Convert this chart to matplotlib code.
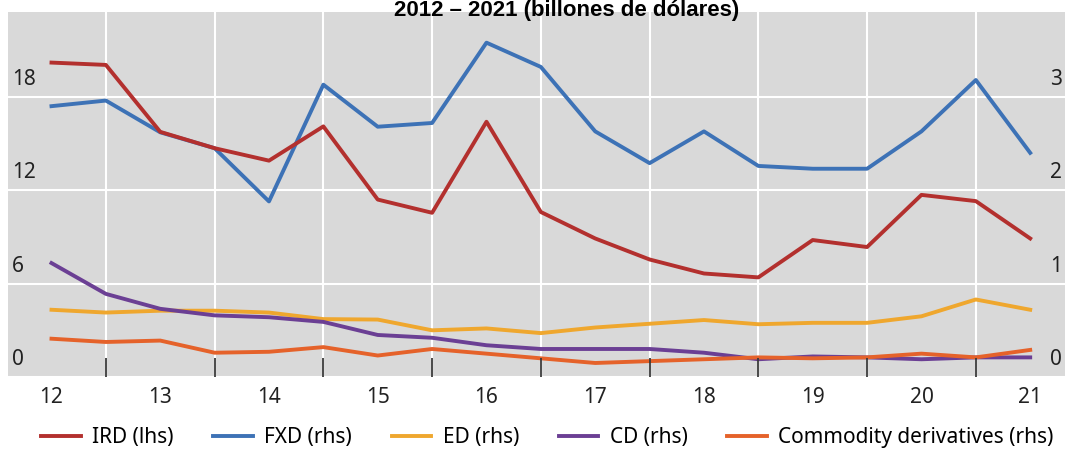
import matplotlib.pyplot as plt
from matplotlib.lines import Line2D

# half-year periods (2012 .. 2021)
periods = [12, 12.5, 13, 13.5, 14, 14.5, 15, 15.5, 16, 16.5,
           17, 17.5, 18, 18.5, 19, 19.5, 20, 20.5, 21]
year_labels = ['12', '13', '14', '15', '16', '17', '18', '19', '20', '21']

ird = [20.2, 20.05, 15.75, 14.7, 13.9, 16.1, 11.4, 10.55, 16.4, 10.6,
       8.9, 7.55, 6.65, 6.4, 8.8, 8.35, 11.7, 11.3, 8.9]
fxd = [2.90, 2.96, 2.62, 2.45, 1.88, 3.13, 2.68, 2.72, 3.58, 3.32,
       2.63, 2.29, 2.63, 2.26, 2.23, 2.23, 2.63, 3.18, 2.40]
ed = [0.72, 0.69, 0.71, 0.71, 0.69, 0.62, 0.615, 0.50, 0.52, 0.47,
      0.53, 0.57, 0.61, 0.565, 0.58, 0.58, 0.65, 0.83, 0.72]
cd = [1.22, 0.89, 0.73, 0.66, 0.64, 0.59, 0.45, 0.42, 0.34, 0.30,
      0.30, 0.30, 0.26, 0.19, 0.22, 0.21, 0.19, 0.21, 0.21]
comm = [0.41, 0.375, 0.39, 0.26, 0.27, 0.32, 0.23, 0.30, 0.25, 0.20,
        0.15, 0.17, 0.19, 0.21, 0.20, 0.21, 0.25, 0.21, 0.29]

lhs_ticks = [0, 6, 12, 18]
rhs_ticks = [0, 1, 2, 3]

c_ird = '#B3302E'
c_fxd = '#3D72B6'
c_ed = '#EFA72E'
c_cd = '#6B3F94'
c_comm = '#E5622A'

plt.rcParams['font.family'] = ['Noto Sans', 'DejaVu Sans']

fig = plt.figure(figsize=(10.65, 4.5), dpi=100)
ax = fig.add_axes([8 / 1065, 1 - 377 / 450, 1 - 8 / 1065, (377 - 12) / 450])
ax2 = ax.twinx()

ytop = 23.45
ax.set_ylim(0, ytop)
ax2.set_ylim(0, ytop / 6)
ax.set_xlim(11.6, 21.32)

for a in (ax, ax2):
    for s in a.spines.values():
        s.set_visible(False)

lw = 2.8
ax.plot(periods, ird, color=c_ird, lw=lw, zorder=3)
ax2.plot(periods, fxd, color=c_fxd, lw=lw)
ax2.plot(periods, ed, color=c_ed, lw=lw)
ax2.plot(periods, cd, color=c_cd, lw=lw)
ax2.plot(periods, comm, color=c_comm, lw=lw)

# lhs axes drawn on top, gray background lives on the rhs axes
ax.set_zorder(ax2.get_zorder() + 1)
ax.patch.set_visible(False)
ax2.patch.set_visible(True)
ax2.patch.set_facecolor('#D9D9D9')

ax.set_yticks(lhs_ticks)
ax.set_yticklabels([])
ax.tick_params(axis='y', length=0)
ax2.set_yticks(rhs_ticks)
ax2.set_yticklabels([])
ax2.tick_params(axis='y', length=0)
for v in lhs_ticks:
    ax2.axhline(v / 6, color='white', lw=1.5, zorder=0)

half_years = [p for p in periods if p % 1 == 0.5]
ax.set_xticks(half_years)
ax.set_xticklabels([])
ax.tick_params(axis='x', direction='in', length=14, width=1.3, color='#3A3A3A')
for v in half_years:
    ax2.axvline(v, color='white', lw=1.5, zorder=0)

for lab in year_labels:
    ax.text(float(lab), -0.055, lab, transform=ax.get_xaxis_transform(),
            ha='center', va='center', fontsize=15, color='#222222')

for v in lhs_ticks:
    ax.text(4 / 1057, v + 0.45, str(v), transform=ax.get_yaxis_transform(),
            ha='left', va='bottom', fontsize=15, color='#222222')
for v in rhs_ticks:
    ax2.text(1 - 15 / 1057, v + 0.075, str(v), transform=ax2.get_yaxis_transform(),
             ha='left', va='bottom', fontsize=15, color='#222222')

fig.text(567 / 1065, 0.999, '2012 – 2021 (billones de dólares)',
         ha='center', va='top', fontsize=16, fontweight='bold',
         family=['Liberation Sans', 'DejaVu Sans'], zorder=5)

handles = [Line2D([], [], color=c, lw=lw) for c in (c_ird, c_fxd, c_ed, c_cd, c_comm)]
labels = ['IRD (lhs)', 'FXD (rhs)', 'ED (rhs)', 'CD (rhs)', 'Commodity derivatives (rhs)']
fig.legend(handles, labels, loc='center', bbox_to_anchor=(0.514, 1 - 438 / 450),
           ncol=5, frameon=False, fontsize=15, handlelength=1.9,
           handletextpad=0.55, columnspacing=1.9, borderpad=0)

fig.savefig('out.png', dpi=100)
